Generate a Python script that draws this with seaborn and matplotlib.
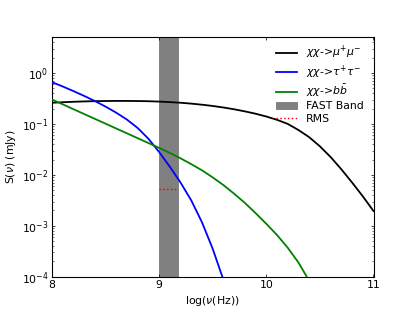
import numpy as np
import pandas as pd
import matplotlib
matplotlib.use("Agg")
import matplotlib.pyplot as plt
import seaborn as sns

# data: log10(frequency/Hz) and log10(flux/mJy)
x_mu = [8.0, 8.1, 8.2, 8.3, 8.4, 8.5, 8.6, 8.7, 8.8, 8.9, 9.0, 9.1, 9.2, 9.3, 9.4, 9.5,
        9.6, 9.7, 9.8, 9.9, 10.0, 10.1, 10.2, 10.3, 10.4, 10.5, 10.6, 10.7, 10.8, 10.9, 11.0]
logS_mu = [-0.585, -0.575, -0.566, -0.559, -0.554, -0.551, -0.549, -0.549, -0.551, -0.555,
           -0.562, -0.572, -0.585, -0.602, -0.623, -0.648, -0.678, -0.713, -0.754, -0.80,
           -0.855, -0.92, -1.0, -1.12, -1.26, -1.44, -1.65, -1.89, -2.15, -2.42, -2.71]

x_tau = [8.0, 8.1, 8.2, 8.3, 8.4, 8.5, 8.6, 8.7, 8.8, 8.9, 9.0, 9.1, 9.2, 9.3, 9.4, 9.5, 9.6]
logS_tau = [-0.18, -0.265, -0.355, -0.45, -0.55, -0.66, -0.78, -0.915, -1.08, -1.29, -1.55,
            -1.84, -2.15, -2.5, -2.93, -3.45, -4.06]

x_bb = [8.0, 8.1, 8.2, 8.3, 8.4, 8.5, 8.6, 8.7, 8.8, 8.9, 9.0, 9.1, 9.2, 9.3, 9.4, 9.5,
        9.6, 9.7, 9.8, 9.9, 10.0, 10.1, 10.2, 10.3, 10.4]
logS_bb = [-0.52, -0.615, -0.71, -0.805, -0.90, -0.995, -1.09, -1.185, -1.28, -1.375, -1.47,
           -1.57, -1.675, -1.79, -1.91, -2.05, -2.20, -2.37, -2.55, -2.75, -2.96, -3.18,
           -3.43, -3.72, -4.08]

fast_band = (9.0, 9.176)
rms_level = 0.0054

labels = [r'$\chi\chi$->$\mu^{+}\mu^{-}$', r'$\chi\chi$->$\tau^{+}\tau^{-}$',
          r'$\chi\chi$->$b\bar{b}$', 'FAST Band', 'RMS']

plt.rcParams['font.size'] = 12
plt.rcParams['xtick.direction'] = 'in'
plt.rcParams['ytick.direction'] = 'in'
plt.rcParams['xtick.top'] = True
plt.rcParams['ytick.right'] = True

fig, ax = plt.subplots(figsize=(415/65, 311/65), dpi=65)

ax.axvspan(fast_band[0], fast_band[1], color='gray', label=labels[3], zorder=1)
sns.lineplot(x=x_mu, y=10**np.array(logS_mu), color='black', lw=2, label=labels[0], ax=ax, zorder=3)
sns.lineplot(x=x_tau, y=10**np.array(logS_tau), color='blue', lw=2, label=labels[1], ax=ax, zorder=3)
sns.lineplot(x=x_bb, y=10**np.array(logS_bb), color='green', lw=2, label=labels[2], ax=ax, zorder=3)
ax.plot(list(fast_band), [rms_level, rms_level], color='red', ls=':', lw=1.6, label=labels[4], zorder=4)

ax.set_yscale('log')
ax.set_xlim(8, 11)
ax.set_ylim(1e-4, 5)
ax.set_xticks([8, 9, 10, 11])
ax.set_xlabel(r'log($\nu$(Hz))')
ax.set_ylabel(r'S($\nu$) (mJy)')
ax.tick_params(which='both', direction='in', top=True, right=True)
for s in ax.spines.values():
    s.set_linewidth(1.2)

h, l = ax.get_legend_handles_labels()
hd = dict(zip(l, h))
ax.legend([hd[k] for k in labels], labels, loc='upper right', frameon=False,
          labelspacing=0.2, bbox_to_anchor=(1.0, 1.012))

fig.savefig('out.png', dpi=65)
